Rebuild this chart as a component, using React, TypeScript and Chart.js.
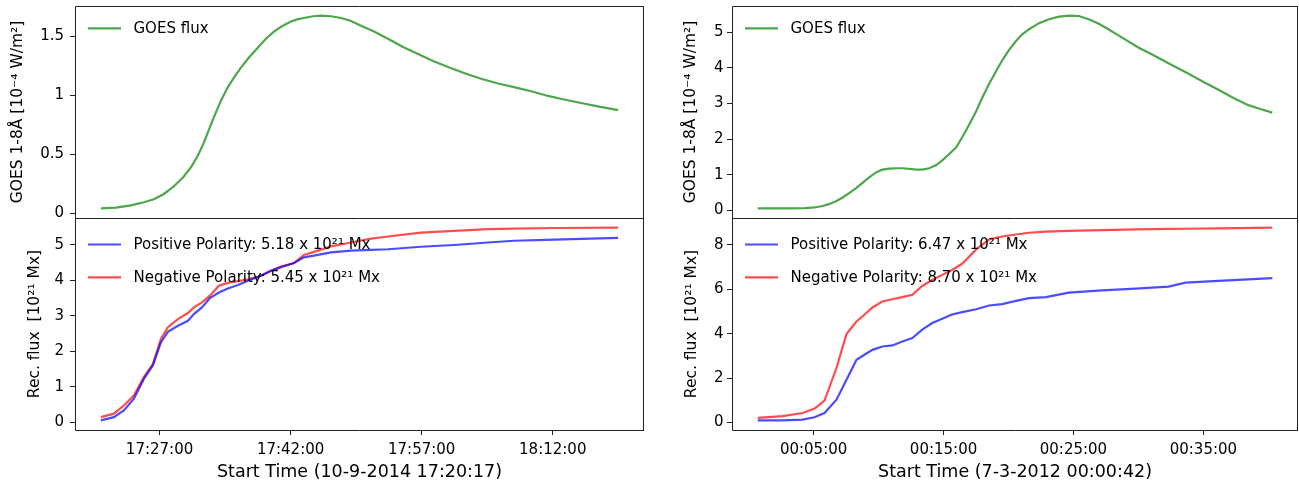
import React, { useEffect, useRef } from 'react';
import { Chart, registerables } from 'chart.js';

Chart.register(...registerables);

const FONT = 'DejaVu Sans';
const GREEN = 'rgba(0,128,0,0.7)';
const BLUE = 'rgba(0,0,255,0.7)';
const RED = 'rgba(255,0,0,0.7)';

// ---------- Left event (10-9-2014), times in minutes since start ----------
const L_START = '17:20:17';
const L_XLABEL = 'Start Time (10-9-2014 17:20:17)';
const L_XTICKS = ['17:27:00', '17:42:00', '17:57:00', '18:12:00'];
const L_GOES_YTICKS = [0, 0.5, 1, 1.5];
const L_REC_YTICKS = [0, 1, 2, 3, 4, 5];
const L_GOES_T = [0, 1.72, 3.44, 4.92, 6.07, 7.21, 8.36, 9.39, 10.31, 11.11, 11.79, 12.37, 12.94, 13.74, 14.54, 15.23, 16.03, 16.95, 17.98, 18.89, 19.81, 20.72, 21.76, 22.56, 23.24, 24.27, 25.19, 26.34, 27.48, 28.63, 29.77, 31.26, 32.86, 34.58, 36.3, 38.01, 39.73, 41.56, 43.51, 45.46, 47.29, 49.24, 51.18, 53.01, 54.96, 57.02, 59.2];
const L_GOES = [0.043, 0.05, 0.068, 0.095, 0.12, 0.165, 0.23, 0.305, 0.39, 0.49, 0.6, 0.71, 0.815, 0.955, 1.07, 1.15, 1.235, 1.32, 1.405, 1.48, 1.54, 1.585, 1.625, 1.645, 1.655, 1.67, 1.675, 1.67, 1.655, 1.63, 1.59, 1.54, 1.48, 1.41, 1.35, 1.29, 1.24, 1.19, 1.14, 1.1, 1.07, 1.035, 0.995, 0.965, 0.935, 0.905, 0.875];
const L_REC_T = [0, 1.49, 2.63, 3.78, 4.92, 5.95, 6.87, 7.67, 8.82, 9.96, 10.65, 11.56, 12.48, 13.51, 14.54, 15.69, 16.83, 18.32, 19.47, 20.61, 22.1, 23.24, 24.85, 26.34, 28.63, 30.92, 32.86, 36.64, 40.42, 44.31, 47.29, 51.87, 59.2];
const L_POS = [0.05, 0.14, 0.33, 0.66, 1.22, 1.6, 2.25, 2.55, 2.72, 2.86, 3.05, 3.24, 3.5, 3.66, 3.77, 3.87, 3.99, 4.13, 4.27, 4.37, 4.49, 4.65, 4.72, 4.79, 4.84, 4.86, 4.88, 4.95, 5.0, 5.07, 5.12, 5.15, 5.2];
const L_NEG = [0.14, 0.24, 0.47, 0.75, 1.27, 1.64, 2.35, 2.68, 2.91, 3.08, 3.24, 3.38, 3.57, 3.85, 3.93, 3.98, 4.03, 4.13, 4.27, 4.39, 4.49, 4.72, 4.84, 4.96, 5.07, 5.18, 5.24, 5.35, 5.4, 5.45, 5.46, 5.48, 5.49];
const L_POS_LABEL = 'Positive Polarity: 5.18 x 10²¹ Mx';
const L_NEG_LABEL = 'Negative Polarity: 5.45 x 10²¹ Mx';

// ---------- Right event (7-3-2012), times in minutes since start ----------
const R_START = '00:00:42';
const R_XLABEL = 'Start Time (7-3-2012 00:00:42)';
const R_XTICKS = ['00:05:00', '00:15:00', '00:25:00', '00:35:00'];
const R_GOES_YTICKS = [0, 1, 2, 3, 4, 5];
const R_REC_YTICKS = [0, 2, 4, 6, 8];
const R_GOES_T = [0, 1.3, 2.46, 3.61, 4.38, 4.99, 5.53, 6.07, 6.53, 7.06, 7.6, 8.06, 8.6, 9.14, 9.6, 10.13, 10.67, 11.13, 11.67, 12.2, 12.67, 13.2, 13.74, 14.2, 14.74, 15.28, 15.74, 16.27, 16.81, 17.27, 17.81, 18.34, 18.81, 19.34, 19.88, 20.34, 20.88, 21.65, 22.41, 23.18, 23.95, 24.71, 25.48, 26.25, 27.02, 27.79, 28.55, 29.32, 30.09, 30.86, 32.01, 33.16, 34.31, 35.46, 36.61, 37.76, 38.68, 39.6];
const R_GOES = [0.055, 0.055, 0.055, 0.06, 0.08, 0.12, 0.18, 0.26, 0.36, 0.49, 0.63, 0.77, 0.93, 1.07, 1.14, 1.17, 1.18, 1.18, 1.16, 1.14, 1.14, 1.18, 1.27, 1.4, 1.58, 1.77, 2.05, 2.4, 2.78, 3.15, 3.55, 3.9, 4.2, 4.5, 4.75, 4.93, 5.08, 5.25, 5.36, 5.43, 5.46, 5.45, 5.36, 5.23, 5.07, 4.9, 4.73, 4.56, 4.42, 4.27, 4.05, 3.83, 3.6, 3.38, 3.15, 2.95, 2.84, 2.74];
const R_REC_T = [0, 1.92, 3.45, 4.37, 5.14, 6.06, 6.83, 7.6, 8.21, 8.83, 9.59, 10.36, 11.13, 11.9, 12.66, 13.43, 14.2, 14.89, 15.73, 16.81, 17.81, 18.8, 19.88, 20.87, 22.18, 23.94, 26.48, 29.09, 31.62, 32.92, 35.46, 39.6];
const R_POS = [0.09, 0.09, 0.12, 0.23, 0.42, 1.02, 1.92, 2.82, 3.05, 3.27, 3.42, 3.47, 3.65, 3.8, 4.18, 4.48, 4.67, 4.85, 4.97, 5.1, 5.27, 5.33, 5.48, 5.6, 5.65, 5.85, 5.95, 6.03, 6.12, 6.3, 6.38, 6.5];
const R_NEG = [0.2, 0.28, 0.42, 0.62, 0.98, 2.45, 3.98, 4.55, 4.85, 5.18, 5.45, 5.55, 5.65, 5.75, 6.15, 6.42, 6.65, 6.85, 7.15, 7.8, 8.25, 8.38, 8.47, 8.55, 8.6, 8.63, 8.67, 8.7, 8.72, 8.73, 8.75, 8.78];
const R_POS_LABEL = 'Positive Polarity: 6.47 x 10²¹ Mx';
const R_NEG_LABEL = 'Negative Polarity: 8.70 x 10²¹ Mx';

const GOES_TITLE = 'GOES 1-8Å [10⁻⁴ W/m²]';
const REC_TITLE = 'Rec. flux  [10²¹ Mx]';
const GOES_LABEL = 'GOES flux';

const toSec = (s: string) => {
  const [h, m, sec] = s.split(':').map(Number);
  return h * 3600 + m * 60 + sec;
};
const toXY = (t: number[], v: number[]) => t.map((x, i) => ({ x, y: v[i] }));
const padRange = (arrs: number[][]) => {
  const all = arrs.flat();
  const mn = Math.min(...all);
  const mx = Math.max(...all);
  const p = (mx - mn) * 0.05;
  return [mn - p, mx + p];
};

type Cfg = {
  start: string; xlabel: string; xticks: string[];
  goesT: number[]; goes: number[]; goesYTicks: number[];
  recT: number[]; pos: number[]; neg: number[]; recYTicks: number[];
  posLabel: string; negLabel: string;
  left: number; width: number; axisW: number; padRight: number; tickPad: number;
  topTitlePad: number; botTitlePad: number;
};

const framePlugin = {
  id: 'frame',
  afterDraw(chart: any) {
    const ctx = chart.ctx;
    const { left, right } = chart.chartArea;
    const yT = chart.scales.yTop;
    const yB = chart.scales.yBot;
    ctx.save();
    ctx.strokeStyle = '#222';
    ctx.lineWidth = 1;
    ctx.beginPath();
    const L = Math.round(left) + 0.5;
    const R = Math.round(right) - 0.5;
    const ys = [Math.round(yT.top) + 0.5, Math.round(yT.bottom) + 0.5, Math.round(yB.bottom) + 0.5];
    ys.forEach((y) => { ctx.moveTo(L, y); ctx.lineTo(R + 0.5, y); });
    ctx.moveTo(L, ys[0]); ctx.lineTo(L, ys[2]);
    ctx.moveTo(R, ys[0]); ctx.lineTo(R, ys[2]);
    ctx.stroke();
    ctx.restore();
  },
};

const makeLegendPlugin = (items: { axis: string; dy: number; label: string; color: string }[]) => ({
  id: 'insideLegend',
  afterDraw(chart: any) {
    const ctx = chart.ctx;
    const { left } = chart.chartArea;
    ctx.save();
    ctx.font = `15px "${FONT}"`;
    ctx.textBaseline = 'middle';
    ctx.textAlign = 'left';
    items.forEach((it) => {
      const y = chart.scales[it.axis].top + it.dy;
      ctx.strokeStyle = it.color;
      ctx.lineWidth = 2.2;
      ctx.beginPath();
      ctx.moveTo(left + 13, y);
      ctx.lineTo(left + 46, y);
      ctx.stroke();
      ctx.fillStyle = '#000';
      ctx.fillText(it.label, left + 58.5, y + 0.5);
    });
    ctx.restore();
  },
});

function Panel({ cfg }: { cfg: Cfg }) {
  const ref = useRef<HTMLCanvasElement | null>(null);
  useEffect(() => {
    if (!ref.current) return;
    const startSec = toSec(cfg.start);
    const xTickVals = cfg.xticks.map((s) => (toSec(s) - startSec) / 60);
    const [xMin, xMax] = padRange([cfg.goesT, cfg.recT]);
    const [gMin, gMax] = padRange([cfg.goes]);
    const [rMin, rMax] = padRange([cfg.pos, cfg.neg]);
    const tickFont = { family: FONT, size: 15 };
    const yCommon = (ticksArr: number[], min: number, max: number, title: string, titlePad: number, weight: number) => ({
      type: 'linear',
      position: 'left',
      stack: 'col',
      stackWeight: 1,
      weight,
      min,
      max,
      afterBuildTicks: (s: any) => { s.ticks = ticksArr.map((v) => ({ value: v })); },
      afterFit: (s: any) => { s.width = cfg.axisW; s.paddingTop = 0; s.paddingBottom = 0; s.paddingLeft = 0; s.paddingRight = 0; },
      ticks: { font: tickFont, color: '#000', padding: cfg.tickPad, callback: (v: number) => String(+Number(v).toFixed(2)) },
      grid: { drawOnChartArea: false, drawTicks: true, tickLength: 5, color: '#222' },
      border: { display: false },
      title: { display: true, text: title, color: '#000', font: { family: FONT, size: 15.5 }, padding: { top: titlePad, bottom: 0 } },
    });
    const chart = new Chart(ref.current, {
      type: 'line',
      data: {
        datasets: [
          { label: GOES_LABEL, data: toXY(cfg.goesT, cfg.goes), yAxisID: 'yTop', borderColor: GREEN, borderWidth: 2.2, pointRadius: 0, tension: 0, fill: false },
          { label: cfg.posLabel, data: toXY(cfg.recT, cfg.pos), yAxisID: 'yBot', borderColor: BLUE, borderWidth: 2.2, pointRadius: 0, tension: 0, fill: false },
          { label: cfg.negLabel, data: toXY(cfg.recT, cfg.neg), yAxisID: 'yBot', borderColor: RED, borderWidth: 2.2, pointRadius: 0, tension: 0, fill: false },
        ],
      },
      options: {
        animation: false,
        responsive: false,
        maintainAspectRatio: false,
        layout: { padding: { left: 0, top: 6, right: cfg.padRight, bottom: 0 } },
        plugins: { legend: { display: false }, tooltip: { enabled: false } },
        scales: {
          x: {
            type: 'linear',
            min: xMin,
            max: xMax,
            afterBuildTicks: (s: any) => { s.ticks = xTickVals.map((v) => ({ value: v })); },
            afterFit: (s: any) => { s.height = 54; s.paddingLeft = 0; s.paddingRight = 0; s.paddingTop = 0; s.paddingBottom = 0; },
            ticks: { font: tickFont, color: '#000', padding: 6, maxRotation: 0, autoSkip: false, callback: (_v: any, i: number) => cfg.xticks[i] },
            grid: { drawOnChartArea: false, drawTicks: true, tickLength: 5, color: '#222' },
            border: { display: false },
            title: { display: true, text: cfg.xlabel, color: '#000', font: { family: FONT, size: 17.5 }, padding: { top: 0, bottom: 1.3 } },
          },
          yBot: yCommon(cfg.recYTicks, rMin, rMax, REC_TITLE, cfg.botTitlePad, 0),
          yTop: yCommon(cfg.goesYTicks, gMin, gMax, GOES_TITLE, cfg.topTitlePad, 1),
        } as any,
      },
      plugins: [
        framePlugin,
        makeLegendPlugin([
          { axis: 'yTop', dy: 22.3, label: GOES_LABEL, color: GREEN },
          { axis: 'yBot', dy: 26.5, label: cfg.posLabel, color: BLUE },
          { axis: 'yBot', dy: 59.3, label: cfg.negLabel, color: RED },
        ]),
      ],
    } as any);
    return () => chart.destroy();
  }, [cfg]);
  return (
    <canvas
      ref={ref}
      width={cfg.width}
      height={484}
      style={{ position: 'absolute', left: cfg.left, top: 0, width: cfg.width, height: 484 }}
    />
  );
}

const LEFT_CFG: Cfg = {
  start: L_START, xlabel: L_XLABEL, xticks: L_XTICKS,
  goesT: L_GOES_T, goes: L_GOES, goesYTicks: L_GOES_YTICKS,
  recT: L_REC_T, pos: L_POS, neg: L_NEG, recYTicks: L_REC_YTICKS,
  posLabel: L_POS_LABEL, negLabel: L_NEG_LABEL,
  left: 0, width: 650, axisW: 75, padRight: 6, tickPad: 6, topTitlePad: 9, botTitlePad: 25.5,
};

const RIGHT_CFG: Cfg = {
  start: R_START, xlabel: R_XLABEL, xticks: R_XTICKS,
  goesT: R_GOES_T, goes: R_GOES, goesYTicks: R_GOES_YTICKS,
  recT: R_REC_T, pos: R_POS, neg: R_NEG, recYTicks: R_REC_YTICKS,
  posLabel: R_POS_LABEL, negLabel: R_NEG_LABEL,
  left: 650, width: 649, axisW: 82, padRight: 1, tickPad: 3.5, topTitlePad: 31.5, botTitlePad: 32.5,
};

export default function App() {
  return (
    <div style={{ position: 'absolute', left: 0, top: 0, width: 1299, height: 484, background: '#fff' }}>
      <Panel cfg={LEFT_CFG} />
      <Panel cfg={RIGHT_CFG} />
    </div>
  );
}
